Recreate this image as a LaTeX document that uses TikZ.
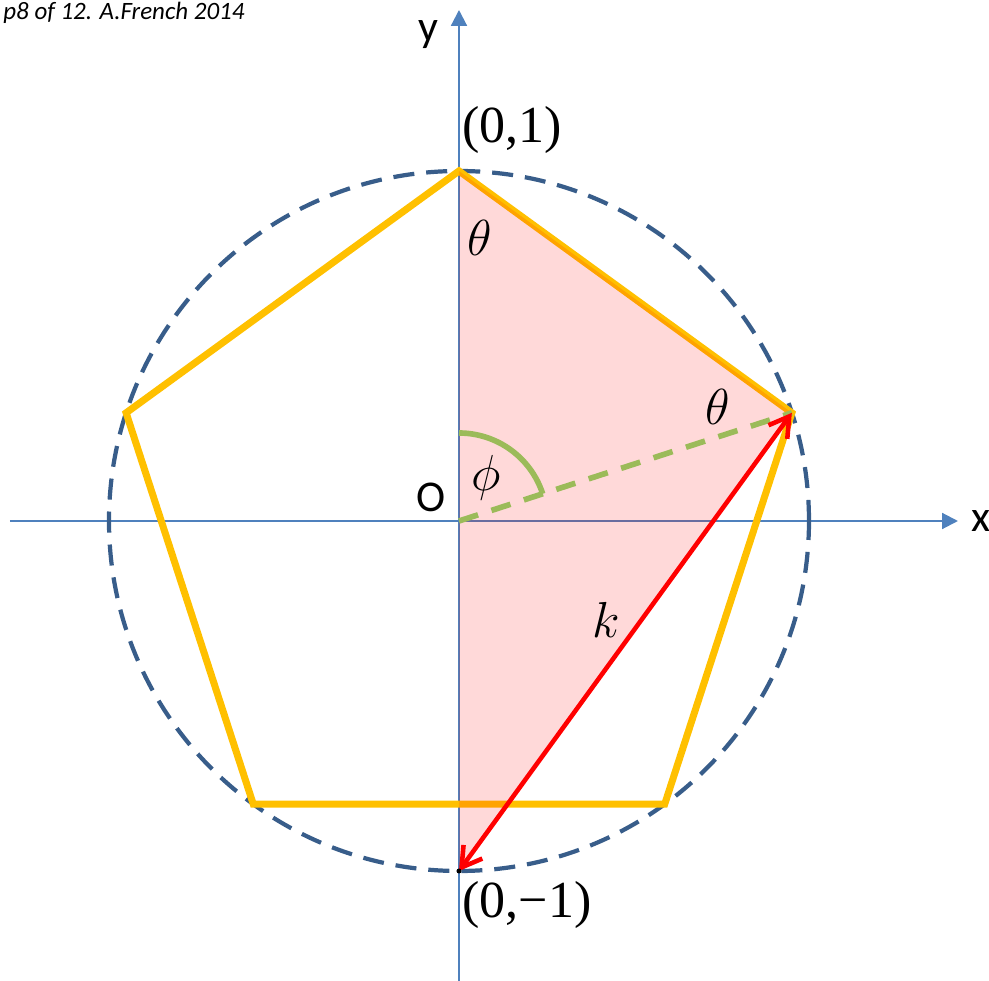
\documentclass[tikz,border=0pt]{standalone}
\usepackage{fontspec}
\setmainfont{Liberation Serif}
\newfontfamily\calibri{Carlito}
\usetikzlibrary{arrows.meta}
\definecolor{axisblue}{RGB}{79,129,189}
\definecolor{circblue}{RGB}{56,93,138}
\definecolor{pentgold}{RGB}{255,192,0}
\definecolor{anglegreen}{RGB}{155,187,89}
\tikzset{
  axis/.style={axisblue, line width=0.6pt, -{Triangle[length=4.5pt,width=4.5pt]}},
  axislabel/.style={font=\calibri\fontsize{12.5}{14}\selectfont},
  ptlabel/.style={font=\fontsize{14.8}{17}\selectfont},
  anglabel/.style={font=\fontsize{14.5}{17}\selectfont},
  unitcircle/.style={circblue, line width=1.2pt, dash pattern=on 6pt off 3.4pt},
  pentagon/.style={pentgold, line width=2pt, line join=miter},
  chord/.style={red, line width=1.3pt, {Straight Barb[length=5.5pt,width=6.6pt]}-{Straight Barb[length=5.5pt,width=6.6pt]}}
}
\begin{document}
\begin{tikzpicture}
\useasboundingbox (-4.59,-4.60) rectangle (5.30,5.21);
% points on the unit circle
\coordinate (O) at (0,0);
\foreach \i/\a in {1/90,2/18,3/-54,4/-126,5/162}
  \coordinate (P\i) at (\a:3.5);
\coordinate (B) at (0,-3.5);
\coordinate (xl) at (-4.49,0);
\coordinate (xr) at (4.99,0);
\coordinate (yb) at (0,-4.60);
\coordinate (yt) at (0,5.11);
% axes
\draw[axis] (xl) -- (xr);
\draw[axis] (yb) -- (yt);
\node[axislabel] (xlab) at (5.22,0) {x};
\node[axislabel] (ylab) at (-0.31,4.86) {y};
\node[axislabel] (olab) at (-0.28,0.24) {O};
% circle and pentagon
\draw[unitcircle] (O) circle (3.5);
\draw[pentagon] (P1) -- (P2) -- (P3) -- (P4) -- (P5) -- cycle;
% shaded triangle
\fill[red, opacity=0.15] (P1) -- (P2) -- (B) -- cycle;
% angle phi
\draw[anglegreen, line width=1.6pt, dash pattern=on 5.7pt off 4pt] (O) -- (P2);
\draw[anglegreen, line width=1.6pt] (0,0.88) arc[start angle=90, end angle=18, radius=0.88];
% chord k
\draw[chord] (P2) -- (B);
\fill (B) circle (0.025);
% labels
\node[ptlabel] (top) at (0.53,3.91) {(0,1)};
\node[ptlabel] (bot) at (0.68,-3.84) {(0,−1)};
\node[anglabel] (th1) at (0.21,2.83) {$\theta$};
\node[anglabel] (th2) at (2.59,1.14) {$\theta$};
\node[anglabel] (ph) at (0.27,0.43) {$\phi$};
\node[anglabel] (kl) at (1.47,-0.99) {$k$};
\node[font=\calibri\itshape\fontsize{7.1}{8.5}\selectfont, anchor=base west] (title) at (-4.68,5.01) {p8 of 12. A.French 2014};
\end{tikzpicture}
\end{document}
